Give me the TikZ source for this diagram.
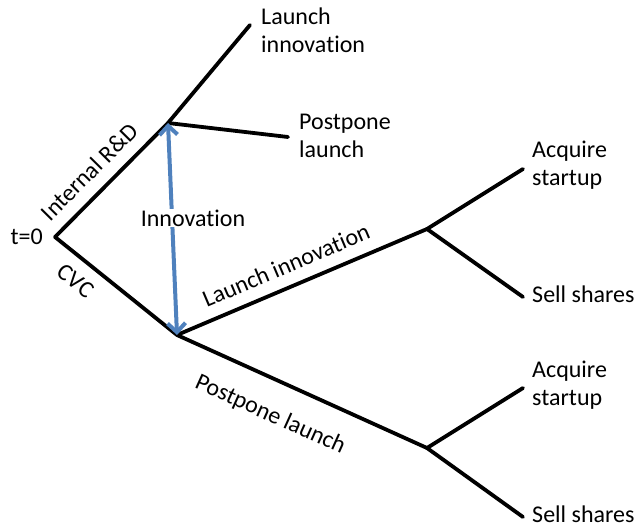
\documentclass[tikz,border=0pt]{standalone}
\usepackage{fontspec}
\setmainfont{Carlito}[Ligatures=NoCommon]
\usetikzlibrary{arrows.meta}
\definecolor{blue1}{RGB}{79, 129, 189}

\begin{document}
\begin{tikzpicture}[x=1pt, y=-1pt, line width=3.8pt,
  every node/.style={font=\fontsize{24}{28}\selectfont},
  lbl/.style={align=left, anchor=west}]
  \useasboundingbox (0,0) rectangle (636,529);
  \coordinate (n0) at (55,237);
  \coordinate (n1) at (168,123);
  \coordinate (n2) at (177,335);
  \coordinate (n3) at (250,25);
  \coordinate (n4) at (288,137);
  \coordinate (n5) at (427,229);
  \coordinate (n6) at (427,448);
  \coordinate (n7) at (523,169);
  \coordinate (n8) at (523,297);
  \coordinate (n9) at (523,388);
  \coordinate (n10) at (523,517);
  \node[anchor=east] (t0) at (48,237) {t=0};
  \node[lbl] (l3) at (256,30) {Launch\\innovation};
  \node[lbl] (l4) at (294,136) {Postpone\\launch};
  \node[lbl] (l7) at (527,165) {Acquire\\startup};
  \node[lbl] (l8) at (527,294) {Sell shares};
  \node[lbl] (l9) at (527,385) {Acquire\\startup};
  \node[lbl] (l10) at (527,514) {Sell shares};
  \foreach \from/\to in {n1/n3, n1/n4, n5/n7, n5/n8, n6/n9, n6/n10}
   \draw[line cap=round] (\from) -- (\to);
  \draw[line cap=round] (n0) -- node[pos=0.44,sloped,above=8pt] {Internal R\&D} (n1);
  \draw[line cap=round] (n0) -- node[pos=0.28,sloped,below=8pt] {CVC} (n2);
  \draw[line cap=round] (n2) -- node[pos=0.47,sloped,above=8pt] {Launch innovation} (n5);
  \draw[line cap=round] (n2) -- node[pos=0.43,sloped,below=19pt] {Postpone launch} (n6);
  \draw[blue1, line width=4pt, {Straight Barb[length=9pt,width=18pt]}-{Straight Barb[length=9pt,width=18pt]}]
   (n1) -- (n2);
  \node[fill=white, inner sep=1pt] (inno) at (193,218) {Innovation};
\end{tikzpicture}
\end{document}
